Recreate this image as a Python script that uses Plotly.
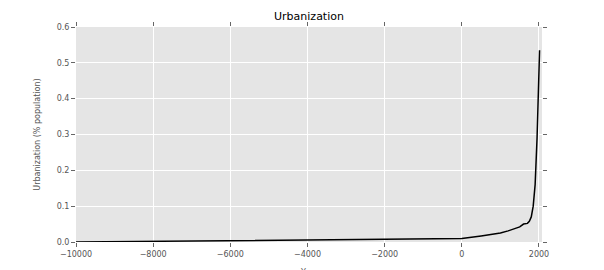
import plotly.graph_objects as go

years = [-10000, -8000, -6000, -4000, -2000, -1000, 0, 500, 1000, 1200, 1400, 1500,
         1600, 1700, 1750, 1800, 1850, 1900, 1950, 2000, 2015]
urban = [0.0, 0.002, 0.0035, 0.005, 0.0065, 0.008, 0.0095, 0.017, 0.025, 0.031, 0.037, 0.042,
         0.05, 0.052, 0.058, 0.07, 0.10, 0.16, 0.29, 0.47, 0.535]

x_ticks = [-10000, -8000, -6000, -4000, -2000, 0, 2000]
y_ticks = [0.0, 0.1, 0.2, 0.3, 0.4, 0.5, 0.6]

title_text = "Urbanization"
y_title = "Urbanization (% population)"
x_title = "Year"

fig = go.Figure()
fig.add_trace(go.Scatter(x=years, y=urban, mode="lines",
                         line=dict(color="black", width=1.5), showlegend=False))

font_family = "DejaVu Sans"
fig.update_layout(
    width=604, height=270,
    margin=dict(l=76, r=62, t=27, b=28),
    paper_bgcolor="white", plot_bgcolor="#e5e5e5",
    font=dict(family=font_family, size=8, color="#555555"),
    title=dict(text=title_text, x=0.5, xref="paper", xanchor="center",
               y=1 - 16.5 / 270, yanchor="middle",
               font=dict(family=font_family, size=11, color="black")),
)
fig.update_xaxes(range=[-10000, 2078], tickvals=x_ticks,
                 ticktext=[str(v).replace("-", "\u2212") for v in x_ticks],
                 showgrid=True, gridcolor="white", gridwidth=1, zeroline=False,
                 ticks="outside", ticklen=4, tickcolor="#666666", tickwidth=1,
                 mirror="ticks", showline=False,
                 tickfont=dict(size=8, color="#555555"))
fig.update_yaxes(range=[0, 0.6], tickvals=y_ticks,
                 ticktext=[f"{v:.1f}" for v in y_ticks],
                 showgrid=True, gridcolor="white", gridwidth=1, zeroline=False,
                 ticks="outside", ticklen=4, tickcolor="#666666", tickwidth=1,
                 mirror="ticks", showline=False,
                 title=dict(text=y_title, font=dict(size=8, color="#555555"), standoff=14),
                 tickfont=dict(size=8, color="#555555"))
fig.add_annotation(text=x_title, xref="paper", yref="paper", x=0.5, y=-(265.5 - 242) / 215,
                   xanchor="center", yanchor="top", showarrow=False,
                   font=dict(family=font_family, size=8, color="#555555"))

fig.write_html("out.html")
